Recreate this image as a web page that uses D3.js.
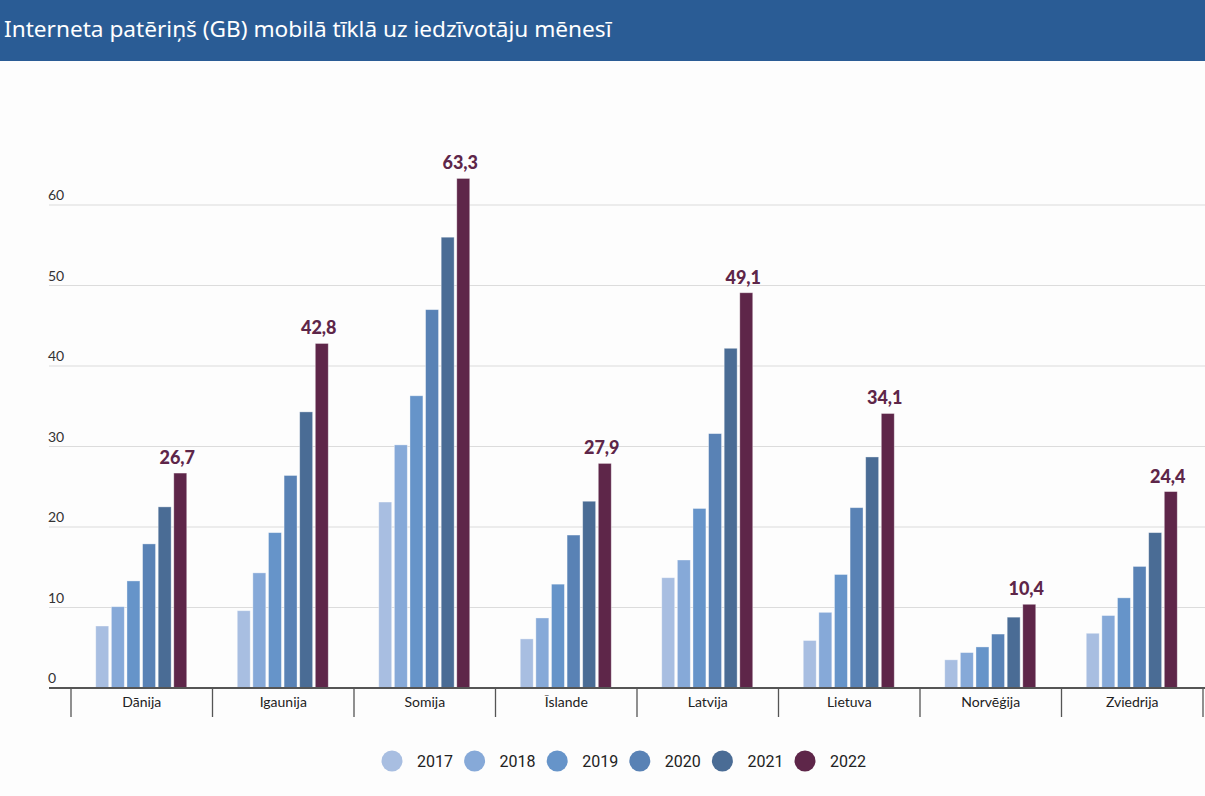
<!DOCTYPE html>
<html>
<head>
<meta charset="utf-8">
<script src="https://cdn.jsdelivr.net/npm/d3@7"></script>
<style>
  html, body { margin: 0; padding: 0; background: #fdfdfd; }
  svg { display: block; }
</style>
</head>
<body>
<svg id="chart" width="1205" height="796"></svg>
<script>
// ---- data ----
const title = "Interneta patēriņš (GB) mobilā tīklā uz iedzīvotāju mēnesī";
const countries = ["Dānija", "Igaunija", "Somija", "Īslande", "Latvija", "Lietuva", "Norvēģija", "Zviedrija"];
const years = ["2017", "2018", "2019", "2020", "2021", "2022"];
const v2017 = [7.7, 9.6, 23.1, 6.1, 13.7, 5.9, 3.5, 6.8];
const v2018 = [10.1, 14.3, 30.2, 8.7, 15.9, 9.4, 4.4, 9.0];
const v2019 = [13.3, 19.3, 36.3, 12.9, 22.3, 14.1, 5.1, 11.2];
const v2020 = [17.9, 26.4, 47.0, 19.0, 31.6, 22.4, 6.7, 15.1];
const v2021 = [22.5, 34.3, 56.0, 23.2, 42.2, 28.7, 8.8, 19.3];
const v2022 = [26.7, 42.8, 63.3, 27.9, 49.1, 34.1, 10.4, 24.4];
const yTicks = [0, 10, 20, 30, 40, 50, 60];
const colors = ["#a8bee1", "#86a9d8", "#6694c9", "#5982b5", "#4a6c95", "#5e2649"];

const series = [v2017, v2018, v2019, v2020, v2021, v2022];

const svg = d3.select("#chart");
const W = 1205, H = 796;

// title bar
svg.append("rect").attr("x", 0).attr("y", 0).attr("width", W).attr("height", 61).attr("fill", "#2a5c95");
const t = svg.append("text").attr("x", 4).attr("y", 37)
  .attr("fill", "#ffffff")
  .attr("font-family", "'Noto Sans', 'DejaVu Sans', sans-serif")
  .attr("font-size", 22)
  .text(title);
// fit to reference width
const tl = t.node().getComputedTextLength();
t.attr("font-size", 22 * 608 / tl);

// scales
const x0 = d3.scaleBand().domain(countries).range([71, 1203]).paddingInner(0).paddingOuter(0);
const x1 = d3.scaleBand().domain(years).range([0, 91]).paddingInner(0.17);
const y = d3.scaleLinear().domain([0, 60]).range([688, 205]);
const groupOffset = (x0.bandwidth() - 91) / 2 - 0.5;

// gridlines + y labels
const g = svg.append("g");
g.selectAll("line.grid").data(yTicks.filter(d => d > 0)).enter().append("line")
  .attr("x1", 49).attr("x2", W)
  .attr("y1", d => y(d)).attr("y2", d => y(d))
  .attr("stroke", "#dcdcdc").attr("stroke-width", 1.2);
g.selectAll("text.ylab").data(yTicks).enter().append("text")
  .attr("x", 48).attr("y", d => y(d) - 5)
  .attr("font-family", "Lato, sans-serif").attr("font-size", 14)
  .attr("fill", "#333")
  .text(d => d);

// bars
const groups = svg.append("g").selectAll("g.country").data(countries).enter().append("g")
  .attr("transform", d => `translate(${x0(d) + groupOffset},0)`);
groups.selectAll("rect").data((c, i) => years.map((yr, j) => ({ yr, j, v: series[j][i] })))
  .enter().append("rect")
  .attr("x", d => x1(d.yr))
  .attr("width", x1.bandwidth())
  .attr("y", d => y(d.v))
  .attr("height", d => y(0) - y(d.v))
  .attr("fill", d => colors[d.j])
  .attr("stroke", "rgba(255,255,255,0.45)").attr("stroke-width", 0.8);

// value labels (2022)
groups.append("text")
  .attr("x", x1("2022") + x1.bandwidth() / 2 - 3)
  .attr("y", (c, i) => y(v2022[i]) - 9)
  .attr("text-anchor", "middle")
  .attr("font-family", "Lato, sans-serif").attr("font-weight", 900).attr("font-size", 18)
  .attr("fill", "#5e2649")
  .text((c, i) => String(v2022[i]).replace(".", ",").replace(/^(\d+)$/, "$1,0"));

// x axis
svg.append("line").attr("x1", 49).attr("x2", W).attr("y1", 688).attr("y2", 688)
  .attr("stroke", "#555").attr("stroke-width", 2);
const bounds = countries.map(c => x0(c)).concat([x0.range()[1]]);
svg.selectAll("line.tick").data(bounds).enter().append("line")
  .attr("x1", d => d).attr("x2", d => d).attr("y1", 688).attr("y2", 717)
  .attr("stroke", "#555").attr("stroke-width", 1.3);
svg.selectAll("text.cat").data(countries).enter().append("text")
  .attr("x", d => x0(d) + x0.bandwidth() / 2)
  .attr("y", 707)
  .attr("text-anchor", "middle")
  .attr("font-family", "Lato, sans-serif").attr("font-size", 14)
  .attr("fill", "#222")
  .text(d => d);

// legend
const lx = d3.scalePoint().domain(years).range([392, 805]);
const leg = svg.append("g").selectAll("g").data(years).enter().append("g")
  .attr("transform", d => `translate(${lx(d)},761)`);
leg.append("circle").attr("r", 10.5).attr("fill", (d, i) => colors[i]);
leg.append("text").attr("x", 25).attr("y", 6)
  .attr("font-family", "Roboto, sans-serif").attr("font-size", 16)
  .attr("fill", "#222")
  .text(d => d);
</script>
</body>
</html>
